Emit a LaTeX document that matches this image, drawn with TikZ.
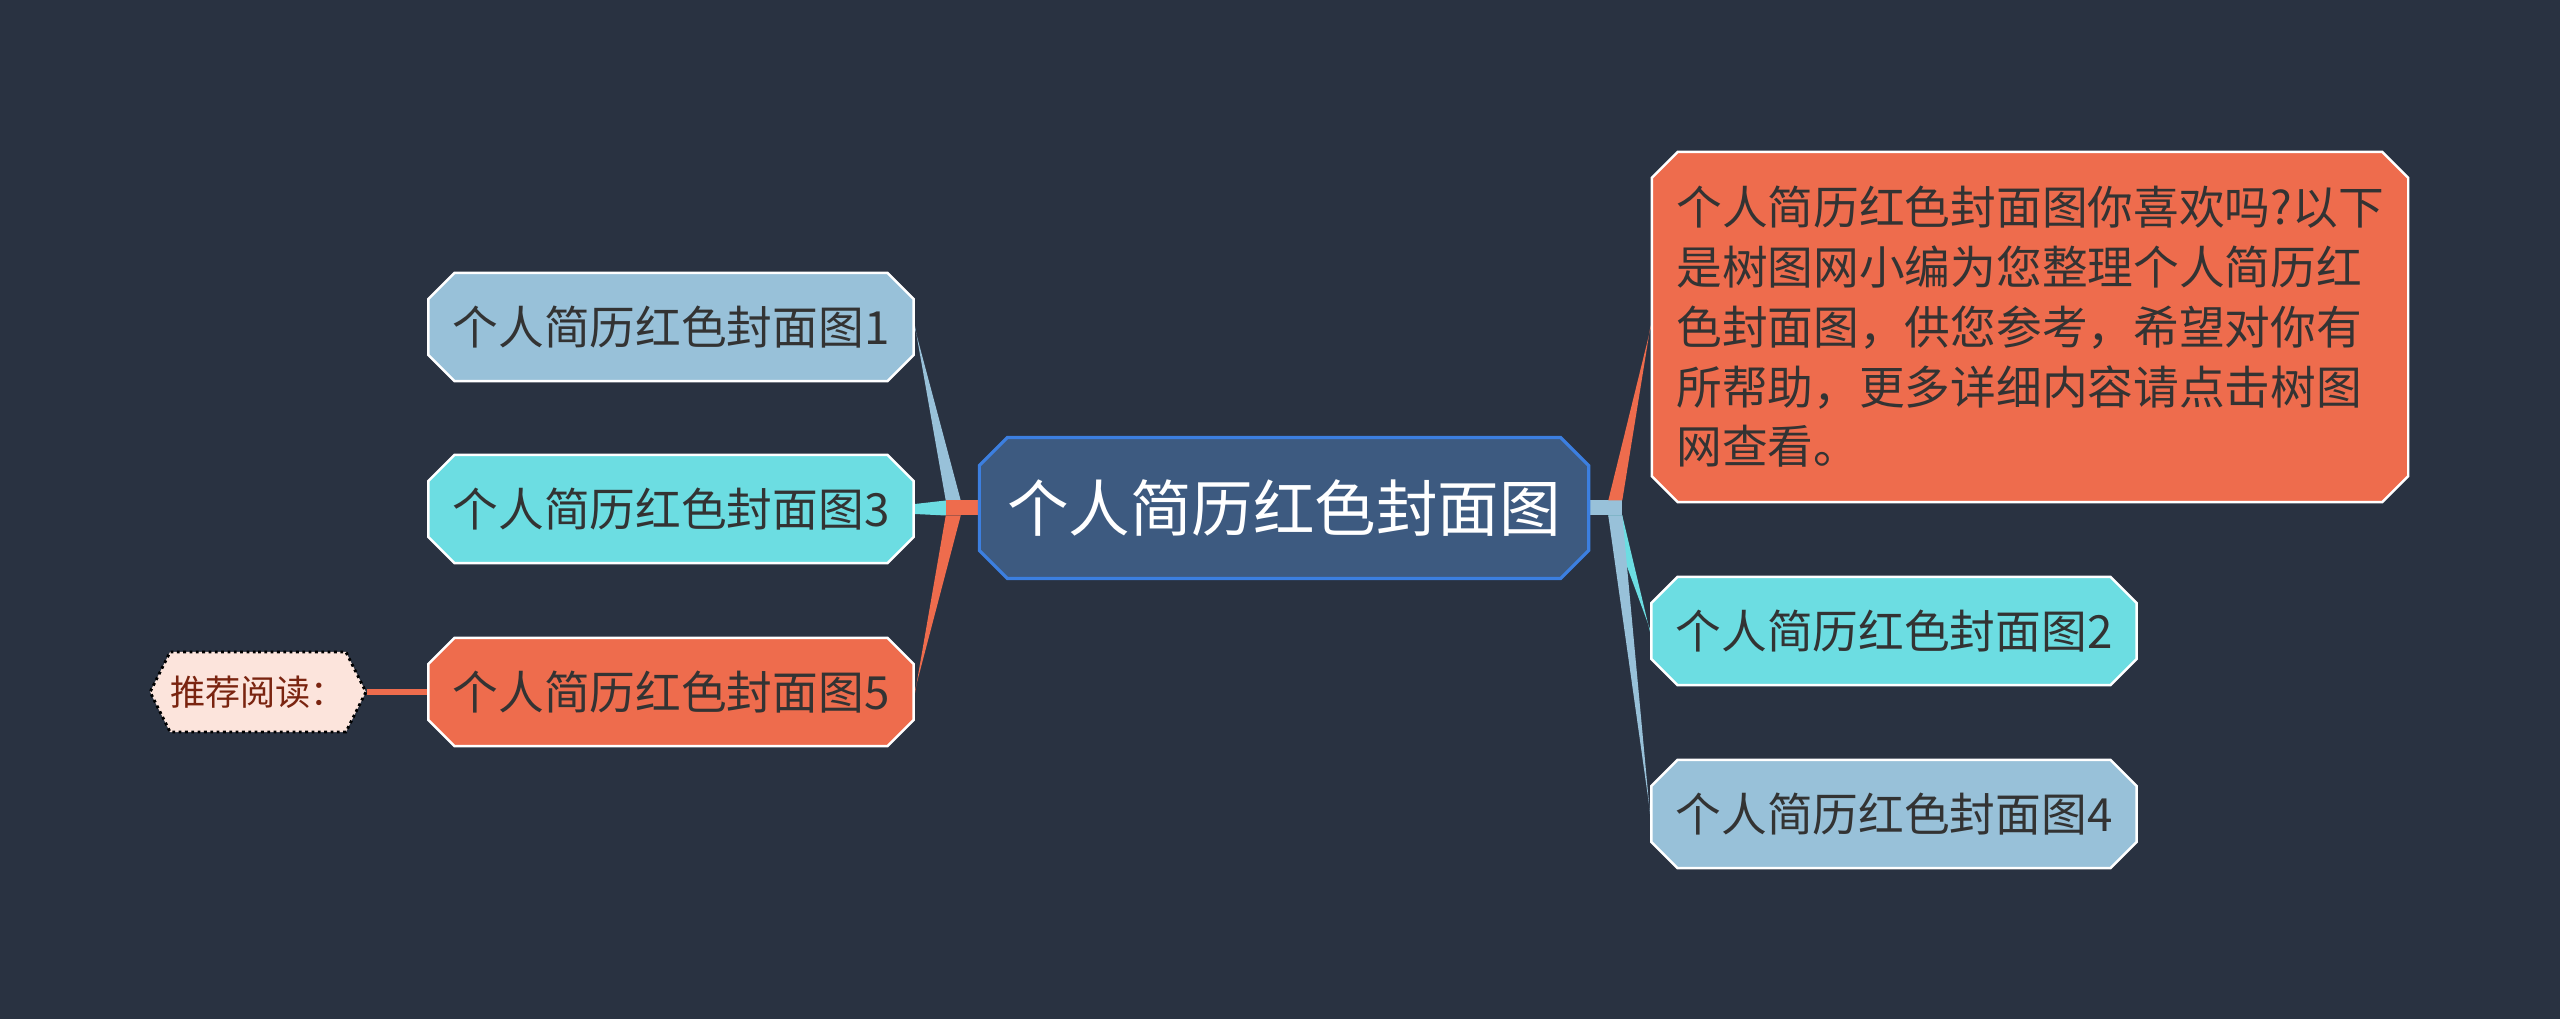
\documentclass[tikz,border=0pt]{standalone}
\usepackage{fontspec}
\setmainfont{Noto Sans CJK SC}
\usepackage{xcolor}
\usetikzlibrary{shapes.misc, shapes.symbols, calc, backgrounds}

\definecolor{bgdark}{HTML}{293241}
\definecolor{rootblue}{HTML}{3D5A80}
\definecolor{rootedge}{HTML}{3C7FE0}
\definecolor{skyblue}{HTML}{98C1D9}
\definecolor{aqua}{HTML}{6CDDE2}
\definecolor{coral}{HTML}{EE6C4D}
\definecolor{inkdark}{HTML}{333333}
\definecolor{tipfill}{HTML}{FCE4DC}
\definecolor{tipred}{HTML}{7A2410}

\tikzset{
  leaf/.style={chamfered rectangle, chamfered rectangle sep=0.13cm,
    draw=white, line width=0.7pt, inner sep=0pt,
    minimum width=4.85cm, minimum height=1.08cm, text=inkdark,
    font=\fontsize{13pt}{17pt}\selectfont},
  rootbox/.style={chamfered rectangle, chamfered rectangle sep=0.14cm,
    draw=rootedge, fill=rootblue, line width=0.9pt, inner sep=0pt,
    minimum width=6.09cm, minimum height=1.41cm, text=white,
    font=\fontsize{17.5pt}{21pt}\selectfont},
  tipbox/.style={signal, signal to=west and east, signal pointer angle=127,
    draw=black, densely dotted, line width=0.8pt, fill=tipfill, inner sep=0pt,
    minimum width=2.1cm, minimum height=0.8cm, text=tipred,
    font=\fontsize{10pt}{12pt}\selectfont}
}

\begin{document}
\begin{tikzpicture}[x=0.01cm, y=-0.01cm]

        % ==========================================
        % CENTRE
        % ==========================================
        \node[rootbox] (ctr) at (1284,508) {个人简历红色封面图};

        % ==========================================
        % LEFT SIDE: three leaves + recommended tag
        % ==========================================
        \node[leaf, fill=skyblue] (n1) at (671,327) {个人简历红色封面图1};
        \node[leaf, fill=aqua] (n3) at (671,509) {个人简历红色封面图3};
        \node[leaf, fill=coral] (n5) at (671,692) {个人简历红色封面图5};
        \node[tipbox] (tj) at (258,692) {推荐阅读：};

        % ==========================================
        % RIGHT SIDE: description + two leaves
        % ==========================================
        \node[leaf, fill=coral, minimum width=7.56cm, minimum height=3.5cm, align=left] (big) at (2030,327)
            {个人简历红色封面图你喜欢吗?以下\\是树图网小编为您整理个人简历红\\色封面图，供您参考，希望对你有\\所帮助，更多详细内容请点击树图\\网查看。};
        \node[leaf, fill=aqua] (n2) at (1894,631) {个人简历红色封面图2};
        \node[leaf, fill=skyblue] (n4) at (1894,814) {个人简历红色封面图4};

        % ==========================================
        % BRANCHES (behind the boxes)
        % ==========================================
        \begin{scope}[on background layer]
            \fill[bgdark] (0,0) rectangle (2560,1019);

            % 1. Left wedges
            \fill[skyblue] ($(ctr.west)+(-32,-7.5)$) -- ($(ctr.west)+(-17,-7.5)$) -- ($(n1.east)+(0,1.5)$) -- ($(n1.east)+(0,-1.5)$) -- cycle;
            \fill[aqua] ($(ctr.west)+(-32,-7.5)$) -- ($(ctr.west)+(-32,7.5)$) -- ($(n3.east)+(0,5)$) -- ($(n3.east)+(0,-5)$) -- cycle;
            \fill[coral] ($(ctr.west)+(-32,7.5)$) -- ($(ctr.west)+(-17,7.5)$) -- ($(n5.east)+(0,-1.5)$) -- ($(n5.east)+(0,1.5)$) -- cycle;
            \fill[coral] ($(ctr.west)+(-32,-7.5)$) rectangle ($(ctr.west)+(0,7.5)$);

            % 2. Right wedges
            \fill[aqua] ($(ctr.east)+(18,7.5)$) -- ($(ctr.east)+(32,7.5)$) -- ($(n2.west)+(0,1.5)$) -- ($(n2.west)+(0,-1.5)$) -- cycle;
            \fill[skyblue] ($(ctr.east)+(18,7.5)$) -- ($(ctr.east)+(32,7.5)$) -- ($(n4.west)+(0,1.5)$) -- ($(n4.west)+(0,-1.5)$) -- cycle;
            \fill[skyblue] ($(ctr.east)+(0,-7.5)$) rectangle ($(ctr.east)+(32,7.5)$);
            \fill[coral] ($(ctr.east)+(18,-7.5)$) -- ($(ctr.east)+(32,-7.5)$) -- ($(big.west)+(0,-1.5)$) -- ($(big.west)+(0,1.5)$) -- cycle;

            % 3. Tag link
            \draw[coral, line width=0.06cm] (tj.east) -- (n5.west);
        \end{scope}

        \useasboundingbox (0,0) rectangle (2560,1019);
\end{tikzpicture}
\end{document}
